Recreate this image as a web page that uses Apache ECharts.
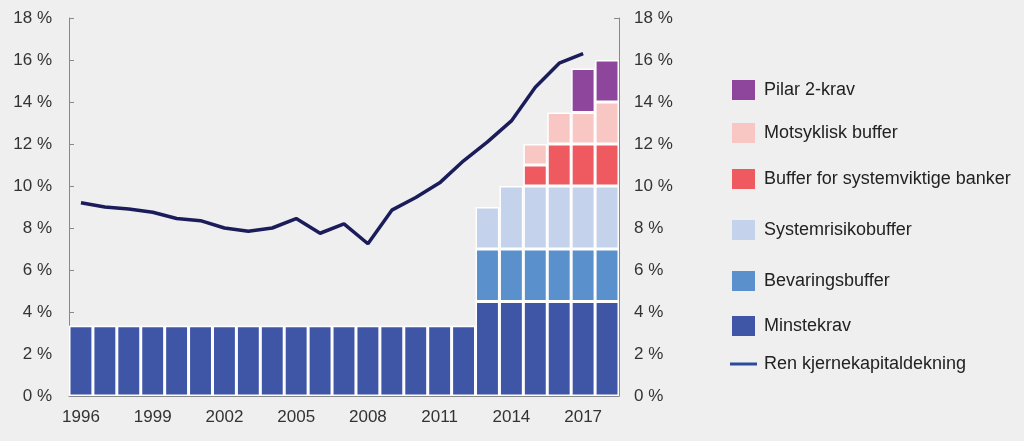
<!DOCTYPE html>
<html><head><meta charset="utf-8">
<script src="https://cdn.jsdelivr.net/npm/echarts@6/dist/echarts.min.js"></script>
<style>html,body{margin:0;padding:0;background:#efefef;}#c{width:1024px;height:441px;}</style>
</head><body><div id="c"></div>
<script>
const years = ['1996','1997','1998','1999','2000','2001','2002','2003','2004','2005','2006','2007','2008','2009','2010','2011','2012','2013','2014','2015','2016','2017','2018'];
const minstekrav = [3.35,3.35,3.35,3.35,3.35,3.35,3.35,3.35,3.35,3.35,3.35,3.35,3.35,3.35,3.35,3.35,3.35,4.5,4.5,4.5,4.5,4.5,4.5];
const bevaringsbuffer = [null,null,null,null,null,null,null,null,null,null,null,null,null,null,null,null,null,2.5,2.5,2.5,2.5,2.5,2.5];
const systemrisikobuffer = [null,null,null,null,null,null,null,null,null,null,null,null,null,null,null,null,null,2,3,3,3,3,3];
const systemviktige = [null,null,null,null,null,null,null,null,null,null,null,null,null,null,null,null,null,null,null,1,2,2,2];
const motsyklisk = [null,null,null,null,null,null,null,null,null,null,null,null,null,null,null,null,null,null,null,1,1.5,1.5,2];
const pilar2 = [null,null,null,null,null,null,null,null,null,null,null,null,null,null,null,null,null,null,null,null,null,2.1,2];
const renKjernekapital = [9.2,9.0,8.9,8.75,8.45,8.35,8.0,7.85,8.0,8.45,7.75,8.2,7.25,8.85,9.45,10.15,11.2,12.1,13.1,14.7,15.85,16.3,null];

const colors = {
  min:'#3f56a6', bev:'#5a90cc', sys:'#c5d2eb', svb:'#ef5a61', mot:'#f8c7c4', pil:'#8e469d', line:'#1b1d5a'
};
const chart = echarts.init(document.getElementById('c'));
const font = 'Liberation Sans, Arial, sans-serif';
function bar(name, data, color){
  return {name, type:'bar', stack:'s', data, barCategoryGap:'0%', yAxisIndex:0,
    itemStyle:{color, borderColor:'#ffffff', borderWidth:1.5}, emphasis:{disabled:true}};
}
const legendItems = [
  ['Pilar 2-krav', 90], ['Motsyklisk buffer', 133], ['Buffer for systemviktige banker', 179],
  ['Systemrisikobuffer', 230], ['Bevaringsbuffer', 281], ['Minstekrav', 326], ['Ren kjernekapitaldekning', 364]
];
const legends = legendItems.map(([n,y], i)=>{
  const isLine = i === legendItems.length - 1;
  return {
    data:[isLine ? {name:n, icon:'rect', itemStyle:{color:'#2b4a9a', borderWidth:0}} : {name:n, icon:'rect'}],
    left: isLine ? 730 : 732, top: y-12, padding:0,
    itemWidth: isLine ? 27 : 23, itemHeight: isLine ? 3 : 20, itemGap:0,
    itemStyle:{borderWidth:0},
    textStyle:{color:'#222', fontSize:18, fontFamily:font, padding:[0,0,0, isLine ? 2 : 4], lineHeight:24}
  };
});
const yAxisCommon = {
  type:'value', min:0, max:18, interval:2,
  axisLine:{show:true, lineStyle:{color:'#888', width:1}},
  axisTick:{show:true, inside:true, length:5, lineStyle:{color:'#888'}},
  splitLine:{show:false},
  axisLabel:{formatter:v=>v+' %', color:'#333', fontSize:17, fontFamily:font}
};
chart.setOption({
  backgroundColor:'#efefef',
  animation:false,
  grid:{left:69, right:405, top:18, bottom:45},
  legend: legends,
  xAxis:{type:'category', data:years,
    axisLine:{show:true, lineStyle:{color:'#888'}}, axisTick:{show:false},
    axisLabel:{interval:2, color:'#333', fontSize:17, fontFamily:font, margin:13}},
  yAxis:[
    Object.assign({}, yAxisCommon, {position:'left', axisLabel:Object.assign({}, yAxisCommon.axisLabel, {margin:17})}),
    Object.assign({}, yAxisCommon, {position:'right', axisLabel:Object.assign({}, yAxisCommon.axisLabel, {margin:15})})
  ],
  series:[
    bar('Minstekrav', minstekrav, colors.min),
    bar('Bevaringsbuffer', bevaringsbuffer, colors.bev),
    bar('Systemrisikobuffer', systemrisikobuffer, colors.sys),
    bar('Buffer for systemviktige banker', systemviktige, colors.svb),
    bar('Motsyklisk buffer', motsyklisk, colors.mot),
    bar('Pilar 2-krav', pilar2, colors.pil),
    {name:'Ren kjernekapitaldekning', type:'line', data:renKjernekapital, symbol:'none',
      lineStyle:{color:colors.line, width:3.5}, itemStyle:{color:colors.line}, z:5}
  ]
});
</script></body></html>
